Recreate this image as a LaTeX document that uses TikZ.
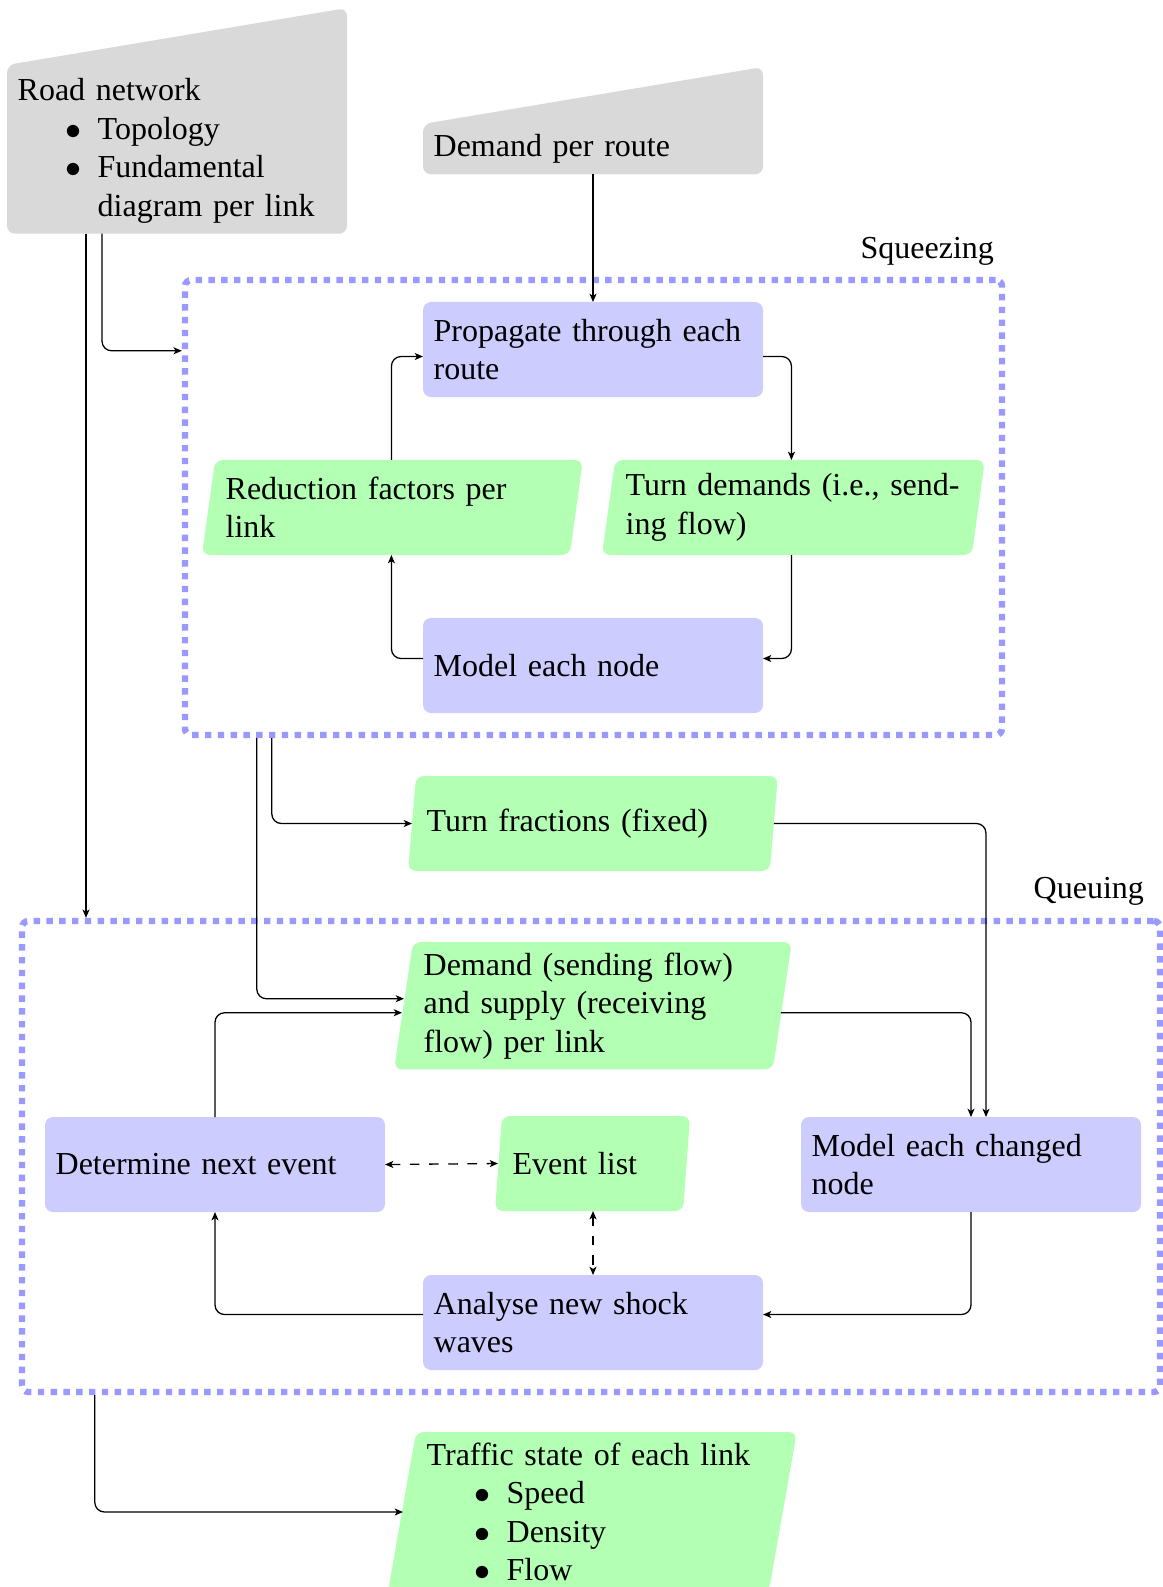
\documentclass[tikz,border=0pt]{standalone}
\usepackage{fontspec}
\setmainfont{Liberation Serif}
\usetikzlibrary{arrows.meta,calc,fit}
\pgfdeclarelayer{background}
\pgfsetlayers{background,main}

\definecolor{procfill}{RGB}{204,204,255}
\definecolor{datafill}{RGB}{179,255,179}
\definecolor{inputfill}{RGB}{217,217,217}
\definecolor{groupline}{RGB}{153,153,255}

% compact bullet list used inside nodes
\newenvironment{tightlist}{%
  \begin{list}{$\bullet$}{%
    \setlength{\topsep}{0pt}\setlength{\partopsep}{0pt}%
    \setlength{\itemsep}{0pt}\setlength{\parsep}{0pt}%
    \setlength{\leftmargin}{2.5em}\setlength{\labelsep}{0.5em}%
    \setlength{\labelwidth}{2em}}}%
  {\end{list}}

% manual-input outline: rectangle whose top edge rises to the right
\newcommand{\inputshape}[2]{%
  \fill[inputfill, rounded corners=2.5pt]
    (#1.south west) -- (#1.north west) -- ($(#1.north east)+(0,-#2)$)
    -- (#1.south east) -- cycle;}
% data outline: slanted parallelogram around the node body
\newcommand{\datashape}[3]{%
  \fill[datafill, rounded corners=2.5pt]
    (#1.north west) -- ($(#1.north east)+(#3,0)$)
    -- ($(#1.south east)+(#3-#2,0)$) -- ($(#1.south west)+(-#2,0)$) -- cycle;}

\begin{document}
\begin{tikzpicture}[x=0.3125pt, y=-0.3125pt,
  boxbase/.style={anchor=north west, inner sep=0.3333em, outer sep=0pt, align=left},
  procnode/.style={boxbase, text width=3.5cm, minimum height=29.7pt,
    fill=procfill, rounded corners=2.5pt},
  datanode/.style={boxbase, text width=103.6pt, minimum height=29.7pt},
  inputnode/.style={boxbase, text width=3.5cm},
  groupbox/.style={draw=groupline, line width=2pt, dotted, rounded corners=2pt,
    inner sep=0pt, outer sep=1pt},
  grouplabel/.style={anchor=base east},
  arr/.style={-{Stealth[length=2.6pt,width=2.2pt,inset=0.7pt]}, rounded corners=3pt},
  duplex/.style={{Stealth[length=2.6pt,width=2.2pt,inset=0.7pt]}-{Stealth[length=2.6pt,width=2.2pt,inset=0.7pt]}, dashed},
]
\useasboundingbox (0,0) rectangle (1162,1587);

% group frames
\node[groupbox, fit={(185,280) (1002,735)}] (squeeze) {};
\node[groupbox, fit={(22,921) (1160,1392)}] (queue) {};
\node[grouplabel] (sqlabel) at ($(squeeze.north east)+(0,-18)$) {Squeezing};
\node[grouplabel] (qlabel) at ($(queue.north east)+(-8,-19)$) {Queuing};

% inputs
\node[inputnode] (road) at (7,65) {\rule{0pt}{7.9pt}Road network
  \begin{tightlist}\item Topology \item Fundamental\\diagram per link\end{tightlist}};
\node[inputnode] (demroute) at (423,124) {Demand per route};

% squeezing phase
\node[procnode] (prop) at (423,302) {Propagate through each\\route};
\node[datanode] (reduc) at (215,460) {Reduction factors per\\link};
\node[datanode] (turnd) at (615,460) {\mbox{Turn demands (i.e., send-}\\ing flow)};
\node[procnode] (model) at (423,618) {Model each node};

% between the phases
\node[datanode] (turnf) at (416,776) {Turn fractions (fixed)};

% queuing phase
\node[datanode] (demand) at (413,942) {Demand (sending flow)\\and supply (receiving\\flow) per link};
\node[procnode] (determine) at (45,1117) {Determine next event};
\node[boxbase, text width=49.3pt, minimum height=29.7pt] (eventlist) at (502,1116) {Event list};
\node[procnode] (changed) at (801,1117) {Model each changed\\node};
\node[procnode] (analyse) at (423,1275) {Analyse new shock\\waves};

% output
\node[datanode] (traffic) at (416,1432) {Traffic state of each link
  \begin{tightlist}\item Speed \item Density \item Flow\end{tightlist}};

\begin{pgfonlayer}{background}
  \inputshape{road}{57}
  \inputshape{demroute}{57}
  \datashape{reduc}{13}{15}
  \datashape{turnd}{13}{17}
  \datashape{turnf}{8}{9}
  \datashape{demand}{19}{26}
  \datashape{eventlist}{7}{9}
  \datashape{traffic}{28}{28}
\end{pgfonlayer}

% connectors
\coordinate (roadq) at ($(road.south west)+(79,0)$);
\draw[arr] ($(road.south west)+(95,0)$) |- ($(squeeze.north west)+(0,74)$);
\draw[arr] (roadq) -- (roadq |- queue.north);
\draw[arr] (demroute.south) -- (prop.north);

\draw[arr] ($(prop.east)+(0,7)$) -| (turnd.north);
\draw[arr] (turnd.south) |- ($(model.east)+(0,-7)$);
\draw[arr] ($(model.west)+(0,-7)$) -| (reduc.south);
\draw[arr] (reduc.north) |- ($(prop.west)+(0,7)$);

\draw[arr] ($(squeeze.south west)+(90,0)$) |- ($(turnf.west)+(-4,0)$);
\draw[arr] ($(squeeze.south west)+(75,0)$) |- ($(demand.west)+(-9,-7)$);

\draw[arr] ($(turnf.east)+(5,0)$) -| ($(changed.north)+(15,0)$);
\draw[arr] ($(demand.east)+(15,7)$) -| (changed.north);
\draw[arr] (determine.north) |- ($(demand.west)+(-11,7)$);
\draw[arr] (changed.south) |- ($(analyse.east)+(0,-8)$);
\draw[arr] ($(analyse.west)+(0,-8)$) -| (determine.south);

\draw[duplex] (determine.east) -- ($(eventlist.west)+(-4,0)$);
\draw[duplex] (eventlist.south -| analyse.north) -- (analyse.north);

\draw[arr] ($(queue.south west)+(76,0)$) |- ($(traffic.north west)+(-13,80)$);
\end{tikzpicture}
\end{document}
